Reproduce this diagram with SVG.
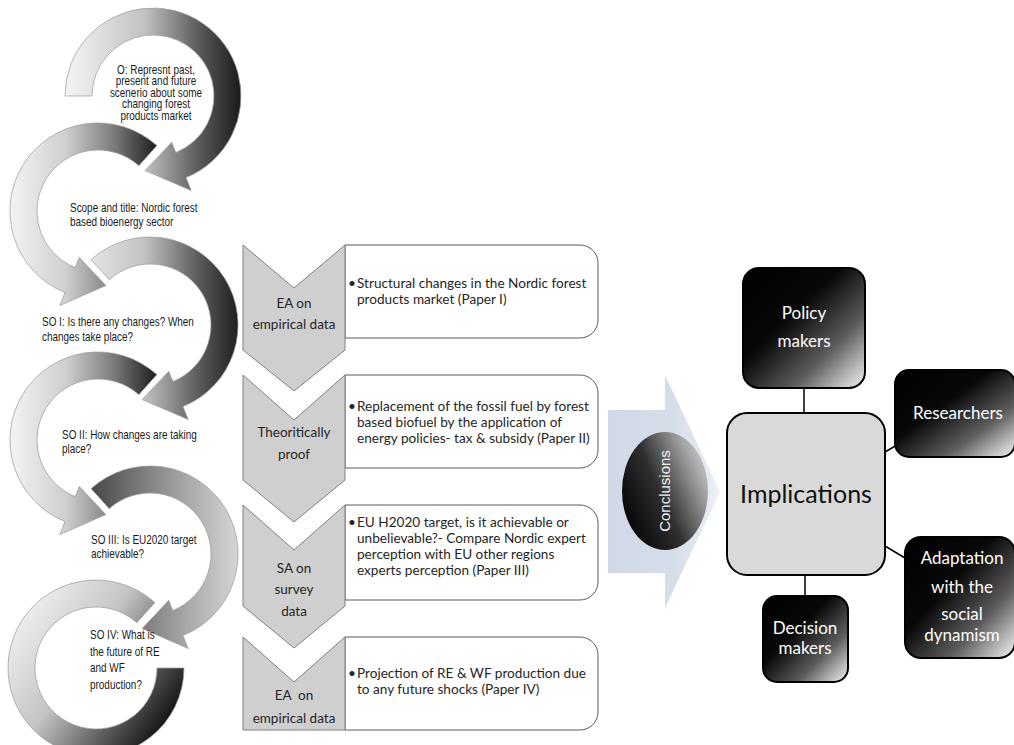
<svg xmlns="http://www.w3.org/2000/svg" width="1014" height="745" viewBox="0 0 1014 745">
<defs>
  <linearGradient id="gA" gradientUnits="userSpaceOnUse" x1="65" y1="0" x2="241" y2="0">
    <stop offset="0" stop-color="#f5f5f5"/><stop offset="0.45" stop-color="#c2c2c2"/><stop offset="0.75" stop-color="#5e5e5e"/><stop offset="1" stop-color="#1a1a1a"/>
  </linearGradient>
  <linearGradient id="gB" gradientUnits="userSpaceOnUse" x1="160" y1="0" x2="8" y2="0">
    <stop offset="0" stop-color="#161616"/><stop offset="0.3" stop-color="#7a7a7a"/><stop offset="0.62" stop-color="#cfcfcf"/><stop offset="1" stop-color="#f5f5f5"/>
  </linearGradient>
  <linearGradient id="gC" gradientUnits="userSpaceOnUse" x1="62" y1="0" x2="240" y2="0">
    <stop offset="0" stop-color="#262626"/><stop offset="0.35" stop-color="#6a6a6a"/><stop offset="0.7" stop-color="#a8a8a8"/><stop offset="1" stop-color="#d6d6d6"/>
  </linearGradient>
  <linearGradient id="gD" gradientUnits="userSpaceOnUse" x1="20" y1="590" x2="185" y2="705">
    <stop offset="0" stop-color="#f7f7f7"/><stop offset="0.45" stop-color="#c4c4c4"/><stop offset="0.8" stop-color="#4d4d4d"/><stop offset="1" stop-color="#0d0d0d"/>
  </linearGradient>
  <linearGradient id="gDark" x1="0" y1="0" x2="1" y2="1">
    <stop offset="0" stop-color="#000"/><stop offset="0.4" stop-color="#080808"/><stop offset="0.7" stop-color="#5c5c5c"/><stop offset="0.9" stop-color="#c4c4c4"/><stop offset="1" stop-color="#f0f0f0"/>
  </linearGradient>
  <linearGradient id="gEll" x1="0" y1="0.8" x2="1" y2="0.2">
    <stop offset="0" stop-color="#000"/><stop offset="0.45" stop-color="#2e2e2e"/><stop offset="0.8" stop-color="#9a9a9a"/><stop offset="1" stop-color="#cfcfcf"/>
  </linearGradient>
  <linearGradient id="gArrow" x1="0" y1="0" x2="1" y2="0">
    <stop offset="0" stop-color="#d1d9e6"/><stop offset="0.6" stop-color="#d6deea"/><stop offset="1" stop-color="#ecf0f6"/>
  </linearGradient>
</defs>
<style>
  .arc{stroke:#9e9e9e;stroke-width:0.75}
  .lt{font-family:"Liberation Sans",Arial,sans-serif;font-size:13px;fill:#1a1a1a}
  .chev{fill:#cfcfcf;stroke:#808080;stroke-width:1}
  .box{fill:#fff;stroke:#5a5a5a;stroke-width:1}
  .ct{font-family:Lato,"Liberation Sans",sans-serif;font-size:13.5px;fill:#262626;text-anchor:middle}
  .bt{font-family:Lato,"Liberation Sans",sans-serif;font-size:13.6px;fill:#262626}
  .dk{fill:url(#gDark);stroke:#000;stroke-width:2}
  .wt{font-family:Lato,"Liberation Sans",sans-serif;font-size:17px;fill:#fff;text-anchor:middle}
  .con{stroke:#000;stroke-width:1.5;fill:none}
</style>
<rect width="1014" height="745" fill="#fff"/>

<!-- circular arrows -->
<g id="arc1">
  <path class="arc" fill="url(#gA)" d="M65,96 A88,88 0 1 1 185.96,177.59 L191.21,190.57 L145.16,170.59 L171.73,142.36 L175.85,152.56 A61,61 0 1 0 92,96 Z"/>
  <g transform="translate(156,0) scale(0.765,1)" class="lt" text-anchor="middle">
    <text x="0" y="74">O: Represnt past,</text>
    <text x="0" y="85.5">present and future</text>
    <text x="0" y="97">scenerio about some</text>
    <text x="0" y="108.5">changing forest</text>
    <text x="0" y="120">products market</text>
  </g>
</g>
<g id="arc2">
  <path class="arc" fill="url(#gB)" d="M156.88,145.61 A88,88 0 1 0 65.04,292.59 L59.79,305.57 L105.84,285.59 L79.27,257.36 L75.15,267.56 A61,61 0 1 1 138.82,165.67 Z"/>
  <g transform="translate(70,0) scale(0.765,1)" class="lt">
    <text x="0" y="212.5">Scope and title: Nordic forest</text>
    <text x="0" y="226.5">based bioenergy sector</text>
  </g>
</g>
<g id="arc3">
  <path class="arc" fill="url(#gA)" d="M91.12,259.61 A88,88 0 1 1 182.96,406.59 L188.21,419.57 L142.16,399.59 L168.73,371.36 L172.85,381.56 A61,61 0 1 0 109.18,279.67 Z"/>
  <g transform="translate(42,0) scale(0.765,1)" class="lt">
    <text x="0" y="326">SO I: Is there any changes? When</text>
    <text x="0" y="341">changes take place?</text>
  </g>
</g>
<g id="arc4">
  <path class="arc" fill="url(#gB)" d="M156.88,374.61 A88,88 0 1 0 65.04,521.59 L59.79,534.57 L105.84,514.59 L79.27,486.36 L75.15,496.56 A61,61 0 1 1 138.82,394.67 Z"/>
  <g transform="translate(62,0) scale(0.765,1)" class="lt">
    <text x="0" y="439">SO II: How changes are taking</text>
    <text x="0" y="453">place?</text>
  </g>
</g>
<g id="arc5">
  <path class="arc" fill="url(#gC)" d="M91.12,488.61 A88,88 0 1 1 182.96,635.59 L188.21,648.57 L142.16,628.59 L168.73,600.36 L172.85,610.56 A61,61 0 1 0 109.18,508.67 Z"/>
  <g transform="translate(91,0) scale(0.765,1)" class="lt">
    <text x="0" y="544">SO III: Is EU2020 target</text>
    <text x="0" y="558">achievable?</text>
  </g>
</g>
<g id="arc6">
  <path class="arc" fill="url(#gD)" d="M154.88,602.61 A88,88 0 1 0 184,668 L157,668 A61,61 0 1 1 136.82,622.67 Z"/>
  <g transform="translate(90,0) scale(0.765,1)" class="lt">
    <text x="0" y="639">SO IV: What is</text>
    <text x="0" y="656">the future of RE</text>
    <text x="0" y="672">and WF</text>
    <text x="0" y="689">production?</text>
  </g>
</g>

<!-- chevron list -->
<g id="box1">
  <path class="box" d="M345,245 H580 A18,18 0 0 1 598,263 V320 A18,18 0 0 1 580,338 H345 Z"/>
  <text class="bt" y="288"><tspan x="348">•</tspan><tspan x="357">Structural changes in the Nordic forest</tspan></text>
  <text class="bt" x="357" y="304">products market (Paper I)</text>
</g>
<g id="chev1">
  <path class="chev" d="M243,245 L294,288 L345,245 L345,350 L294,391 L243,350 Z"/>
  <text class="ct" x="294" y="308">EA on</text>
  <text class="ct" x="294" y="329">empirical data</text>
</g>
<g id="box2">
  <path class="box" d="M345,375 H580 A18,18 0 0 1 598,393 V450 A18,18 0 0 1 580,468 H345 Z"/>
  <text class="bt" y="411"><tspan x="348">•</tspan><tspan x="357">Replacement of the fossil fuel by forest</tspan></text>
  <text class="bt" x="357" y="427">based biofuel by the application of</text>
  <text class="bt" x="357" y="443">energy policies- tax &amp; subsidy (Paper II)</text>
</g>
<g id="chev2">
  <path class="chev" d="M243,375 L294,420 L345,375 L345,480 L294,522 L243,480 Z"/>
  <text class="ct" x="294" y="437">Theoritically</text>
  <text class="ct" x="294" y="459">proof</text>
</g>
<g id="box3">
  <path class="box" d="M345,505 H580 A18,18 0 0 1 598,523 V582 A18,18 0 0 1 580,600 H345 Z"/>
  <text class="bt" y="527"><tspan x="348">•</tspan><tspan x="357">EU H2020 target, is it achievable or</tspan></text>
  <text class="bt" x="357" y="543">unbelievable?- Compare Nordic expert</text>
  <text class="bt" x="357" y="559">perception with EU other regions</text>
  <text class="bt" x="357" y="575">experts perception (Paper III)</text>
</g>
<g id="chev3">
  <path class="chev" d="M243,505 L294,550 L345,505 L345,606 L294,648 L243,606 Z"/>
  <text class="ct" x="294" y="573">SA on</text>
  <text class="ct" x="294" y="594">survey</text>
  <text class="ct" x="294" y="616">data</text>
</g>
<g id="box4">
  <path class="box" d="M345,637 H580 A18,18 0 0 1 598,655 V712 A18,18 0 0 1 580,730 H345 Z"/>
  <text class="bt" y="678"><tspan x="348">•</tspan><tspan x="357">Projection of RE &amp; WF production due</tspan></text>
  <text class="bt" x="357" y="694">to any future shocks (Paper IV)</text>
</g>
<g id="chev4">
  <path class="chev" d="M243,637 L294,682 L345,637 L345,730 L243,730 Z"/>
  <text class="ct" x="294" y="700" xml:space="preserve">EA  on</text>
  <text class="ct" x="294" y="723">empirical data</text>
</g>

<!-- conclusions arrow -->
<g id="conclusions">
  <path fill="url(#gArrow)" d="M608,410 H665 V375 L720,492 L665,608 V573 H608 Z"/>
  <ellipse cx="665" cy="491" rx="43" ry="59" fill="url(#gEll)"/>
  <text transform="translate(670,491) rotate(-90)" x="0" y="0" text-anchor="middle" font-family="Liberation Sans, Arial, sans-serif" font-size="15" fill="#f0f0f0">Conclusions</text>
</g>

<!-- connectors -->
<g id="connectors">
  <line class="con" x1="804" y1="388" x2="804" y2="413"/>
  <line class="con" x1="885" y1="452" x2="897" y2="445"/>
  <line class="con" x1="885" y1="546" x2="905" y2="558"/>
  <line class="con" x1="805" y1="575" x2="805" y2="596"/>
</g>

<g id="implications">
  <rect x="727" y="413" width="158" height="162" rx="20" fill="#d9d9d9" stroke="#000" stroke-width="2"/>
  <text x="806" y="503" text-anchor="middle" font-family="Lato, Liberation Sans, sans-serif" font-size="25" fill="#111">Implications</text>
</g>
<g id="policy">
  <rect class="dk" x="743" y="268" width="122" height="120" rx="16"/>
  <text class="wt" x="804" y="319">Policy</text>
  <text class="wt" x="804" y="347">makers</text>
</g>
<g id="researchers">
  <rect class="dk" x="895" y="370" width="120" height="87" rx="14"/>
  <text class="wt" x="958" y="419">Researchers</text>
</g>
<g id="adaptation">
  <rect class="dk" x="905" y="537" width="110" height="121" rx="16"/>
  <text class="wt" x="962" y="564">Adaptation</text>
  <text class="wt" x="962" y="593">with the</text>
  <text class="wt" x="962" y="620">social</text>
  <text class="wt" x="962" y="641">dynamism</text>
</g>
<g id="decision">
  <rect class="dk" x="763" y="596" width="85" height="86" rx="14"/>
  <text class="wt" x="805" y="634">Decision</text>
  <text class="wt" x="805" y="654">makers</text>
</g>
</svg>
